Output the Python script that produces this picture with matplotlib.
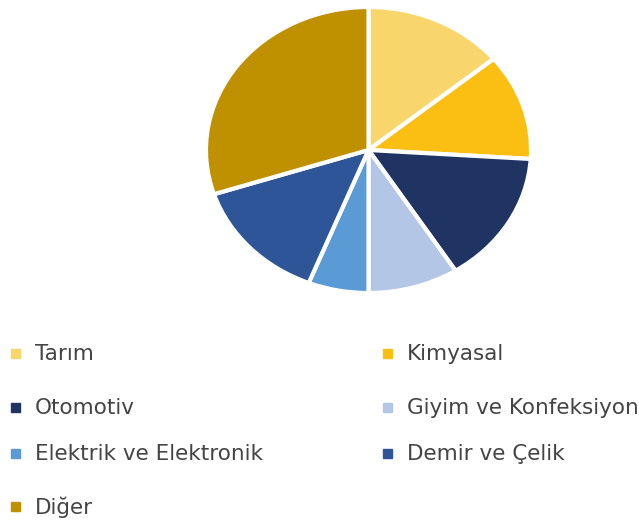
import matplotlib.pyplot as plt

# data
labels = ["Tarım", "Kimyasal", "Otomotiv", "Giyim ve Konfeksiyon",
          "Elektrik ve Elektronik", "Demir ve Çelik", "Diğer"]
shares = [14, 12, 15, 9, 6, 14, 30]
colors = ["#F9D66B", "#FBBF14", "#1F3462", "#B3C6E6",
          "#5A9BD5", "#2D5597", "#BF9000"]

W, H = 639, 522
fig = plt.figure(figsize=(W / 100, H / 100), dpi=100)

# pie is drawn slightly squashed (wider than tall) like the original
ax = fig.add_axes([206 / W, (H - 293) / H, 325 / W, 286 / H])
ax.pie(shares, colors=colors, startangle=90, counterclock=False, radius=1,
       wedgeprops=dict(edgecolor="white", linewidth=3))
ax.set_aspect("auto")
ax.set_xlim(-1, 1)
ax.set_ylim(-1, 1)
ax.axis("off")

# legend laid out by hand, two columns
col_x = [11, 383]
row_y = [354, 408, 454, 507]
for i, (lab, c) in enumerate(zip(labels, colors)):
    x = col_x[i % 2]
    y = row_y[i // 2]
    fig.patches.append(plt.Rectangle((x / W, (H - y - 4) / H), 9 / W, 9 / H,
                                     transform=fig.transFigure, color=c))
    fig.text((x + 24) / W, (H - y) / H, lab, fontsize=15.5, color="#444444",
             va="center", ha="left", family="DejaVu Sans")

fig.savefig("out.png", dpi=100)
